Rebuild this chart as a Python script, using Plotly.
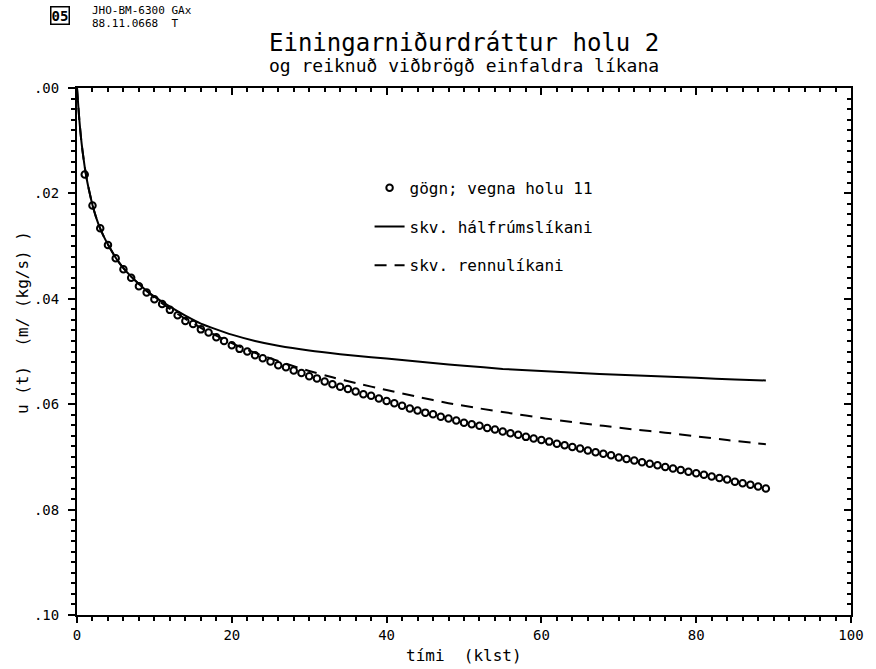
import plotly.graph_objects as go

# ---------------- data ----------------
t_data = list(range(1, 90))
u_data = [
    0.0164, 0.0223, 0.0266, 0.0298, 0.0323, 0.0344, 0.0360, 0.0376, 0.0388, 0.0401,
    0.0410, 0.0421, 0.0431, 0.0442, 0.0448, 0.0458, 0.0464, 0.0473, 0.0480, 0.0488,
    0.0495, 0.0500, 0.0507, 0.0513, 0.0519, 0.0526, 0.0530, 0.0536, 0.0541, 0.0547,
    0.0551, 0.0557, 0.0562, 0.0567, 0.0571, 0.0576, 0.0581, 0.0584, 0.0589, 0.0594,
    0.0598, 0.0603, 0.0608, 0.0612, 0.0616, 0.0619, 0.0624, 0.0627, 0.0631, 0.0635,
    0.0638, 0.0641, 0.0645, 0.0648, 0.0652, 0.0655, 0.0658, 0.0662, 0.0665,
    0.0668, 0.0671, 0.0675, 0.0678, 0.0681, 0.0684, 0.0688, 0.0691, 0.0694, 0.0697,
    0.0701, 0.0704, 0.0707, 0.0710, 0.0713, 0.0716, 0.0719, 0.0722, 0.0725, 0.0728,
    0.0731, 0.0734, 0.0737, 0.0740, 0.0743, 0.0747, 0.0750, 0.0753, 0.0756, 0.0760,
]

t_half = [0, 0.1, 0.3, 0.5, 0.7, 1.0, 1.3, 1.6, 2, 2.5, 3, 3.5, 4, 5, 6, 7, 8, 9, 10,
          12, 14, 16, 18, 20, 23, 26, 30, 34, 38, 42, 46, 50, 55, 60, 65, 70, 75, 80, 85, 89]
u_half = [0, 0.0020, 0.0060, 0.0092, 0.0118, 0.0150, 0.0176, 0.0197, 0.0222, 0.0247,
          0.0267, 0.0283, 0.0297, 0.0322, 0.0342, 0.0358, 0.0372, 0.0385, 0.0396,
          0.0415, 0.0432, 0.0447, 0.0458, 0.0468, 0.0480, 0.0489, 0.0498, 0.0505,
          0.0511, 0.0516, 0.0522, 0.0527, 0.0533, 0.0537, 0.0541, 0.0544, 0.0547,
          0.0550, 0.0553, 0.0555]

t_chan = [0, 0.1, 0.3, 0.5, 0.7, 1.0, 1.3, 1.6, 2, 2.5, 3, 3.5, 4, 5, 6, 7, 8, 9, 10,
          12, 14, 16, 18, 20, 22, 24, 26, 28, 30, 33, 36, 40, 44, 48, 52, 56, 60, 64,
          68, 72, 76, 80, 84, 89]
u_chan = [0, 0.0020, 0.0060, 0.0092, 0.0118, 0.0150, 0.0176, 0.0197, 0.0222, 0.0247,
          0.0267, 0.0283, 0.0297, 0.0322, 0.0342, 0.0358, 0.0372, 0.0385, 0.0398,
          0.0419, 0.0438, 0.0455, 0.0470, 0.0484, 0.0497, 0.0508, 0.0518, 0.0528,
          0.0537, 0.0549, 0.0560, 0.0573, 0.0586, 0.0598, 0.0608, 0.0617, 0.0626,
          0.0634, 0.0641, 0.0648, 0.0654, 0.0661, 0.0668, 0.0676]

x_ticks = [0, 20, 40, 60, 80, 100]
x_ticktext = ["0", "20", "40", "60", "80", "100"]
y_ticks = [0.00, 0.02, 0.04, 0.06, 0.08, 0.10]
y_ticktext = [".00", ".02", ".04", ".06", ".08", ".10"]

names = ["gögn; vegna holu 11", "skv. hálfrúmslíkani", "skv. rennulíkani"]

FONT = "DejaVu Sans Mono"

fig = go.Figure()
fig.add_trace(go.Scatter(
    x=t_data, y=u_data, mode="markers", name=names[0], legendgroup="a",
    marker=dict(symbol="circle-open", size=6.5, color="black", line=dict(width=2, color="black")),
))
fig.add_trace(go.Scatter(
    x=t_half, y=u_half, mode="lines", name=names[1], legendgroup="b",
    line=dict(color="black", width=2, shape="spline", smoothing=0.6),
))
fig.add_trace(go.Scatter(
    x=t_chan, y=u_chan, mode="lines", name=names[2], legendgroup="c",
    line=dict(color="black", width=2, dash="12px,8px", shape="spline", smoothing=0.6),
))
# helper trace for mirrored axes
fig.add_trace(go.Scatter(x=[0], y=[0], xaxis="x2", yaxis="y2", mode="markers",
                         marker=dict(opacity=0), showlegend=False, hoverinfo="skip"))

axis_common = dict(showgrid=False, zeroline=False, showline=True, linecolor="black",
                   linewidth=2, tickcolor="black", tickwidth=2)

fig.update_layout(
    width=876, height=669,
    margin=dict(l=77, r=18, t=88, b=54),
    paper_bgcolor="white", plot_bgcolor="white",
    font=dict(family=FONT, color="black", size=14),
    xaxis=dict(range=[0, 100], tickvals=x_ticks, ticktext=x_ticktext, ticks="outside",
               ticklen=6, tickfont=dict(size=14, family=FONT), ticklabelstandoff=0,
               minor=dict(dtick=2, ticks="outside", ticklen=4, tickwidth=1.5, tickcolor="black"),
               **axis_common),
    xaxis2=dict(range=[0, 100], overlaying="x", side="top", anchor="y", tickvals=x_ticks,
                showticklabels=False, ticks="inside", ticklen=7,
                minor=dict(dtick=2, ticks="inside", ticklen=4, tickwidth=1.5, tickcolor="black"),
                **axis_common),
    yaxis=dict(range=[0.10, 0.0], tickvals=y_ticks, ticktext=y_ticktext, ticks="outside",
               ticklen=7, tickfont=dict(size=14, family=FONT), ticklabelstandoff=6,
               minor=dict(dtick=0.002, ticks="outside", ticklen=4, tickwidth=1.5, tickcolor="black"),
               **axis_common),
    yaxis2=dict(range=[0.10, 0.0], overlaying="y", side="right", anchor="x", tickvals=y_ticks,
                showticklabels=False, ticks="inside", ticklen=7,
                minor=dict(dtick=0.002, ticks="inside", ticklen=4, tickwidth=1.5, tickcolor="black"),
                **axis_common),
    showlegend=True,
    legend=dict(x=0.378, y=0.843, xanchor="left", yanchor="top", bgcolor="rgba(0,0,0,0)",
                font=dict(family=FONT, size=16, color="black"),
                tracegroupgap=15, traceorder="grouped", itemwidth=30),
)

ann = [
    dict(text="Einingarniðurdráttur holu 2", x=0.5, y=1.0854, font=dict(size=24)),
    dict(text="og reiknuð viðbrögð einfaldra líkana", x=0.5, y=1.0436, font=dict(size=18)),
    dict(text="tími  (klst)", x=0.5, y=-0.076, font=dict(size=16)),
    dict(text="u (t)  (m/ (kg/s) )", x=-0.0704, y=0.555, textangle=-90, font=dict(size=16)),
    dict(text="JHO-BM-6300 GAx", x=0.0166, y=1.1480, xanchor="left", font=dict(size=11)),
    dict(text="88.11.0668  T", x=0.0166, y=1.1215, xanchor="left", font=dict(size=11)),
    dict(text="<b>05</b>", x=-0.0218, y=1.1370, font=dict(size=14), bordercolor="black",
         borderwidth=1.5, borderpad=0),
]
for a in ann:
    a.setdefault("xanchor", "center")
    a.setdefault("yanchor", "middle")
    fig.add_annotation(xref="paper", yref="paper", showarrow=False,
                       **{k: v for k, v in a.items() if k != "font"},
                       font=dict(family=FONT, color="black", **a["font"]))

fig.write_html("out.html")
